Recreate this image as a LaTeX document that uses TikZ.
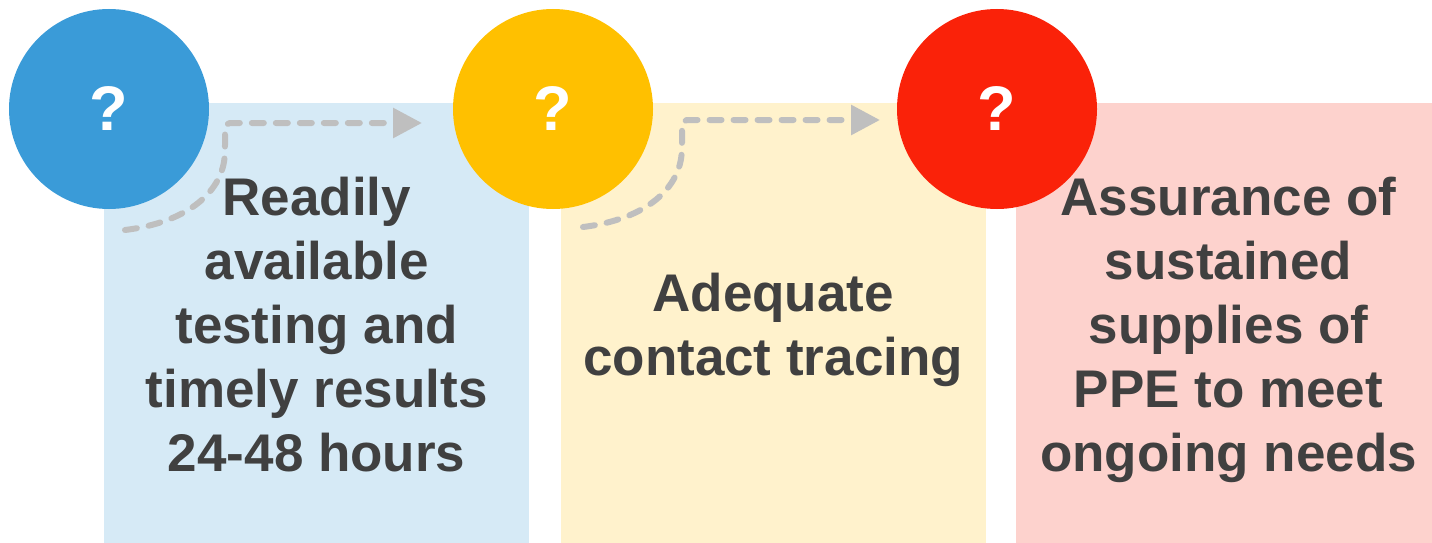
\documentclass[tikz,border=0pt]{standalone}
\usepackage{fontspec}
\setmainfont{Liberation Sans}
\usetikzlibrary{positioning,arrows.meta}
\definecolor{bluedot}{HTML}{3A9BD8}
\definecolor{bluebg}{HTML}{D6EAF6}
\definecolor{yellowdot}{HTML}{FFC000}
\definecolor{yellowbg}{HTML}{FFF2CC}
\definecolor{reddot}{HTML}{FA2209}
\definecolor{redbg}{HTML}{FDD2CD}
\definecolor{textgray}{HTML}{404040}
\definecolor{arrowgray}{HTML}{BFBFBF}

\begin{document}
\begin{tikzpicture}[x=1pt,y=-1pt]
    \tikzstyle{panel}=[draw=none,minimum width=425pt,minimum height=440pt,inner sep=0pt]
    \tikzstyle{caption}=[align=center,inner sep=0pt,text=textgray,
        font=\fontsize{53}{64}\selectfont\bfseries]
    \tikzstyle{dot}=[circle,minimum size=200pt,inner sep=0pt,text=white,
        font=\fontsize{63}{63}\selectfont\bfseries]
    \tikzstyle{flow}=[draw=arrowgray,line width=6pt,line cap=round,
        dash pattern=on 12pt off 12pt,rounded corners=5pt,
        -{Triangle[length=29pt,width=29pt]}]

    \useasboundingbox (0,0) rectangle (1432,543);
    \clip (0,0) rectangle (1432,543);

    %% Coloured panels
    \node [panel,fill=bluebg,anchor=north west] (box1) at (104,103) {};
    \node [panel,fill=yellowbg,right=31pt of box1] (box2) {};
    \node [panel,fill=redbg,right=30pt of box2] (box3) {};

    %% Panel texts
    \node [caption,below=74pt of box1.north] (txt1)
        {Readily\\available\\testing and\\timely results\\24-48 hours};
    \node [caption,below=170pt of box2.north] (txt2)
        {Adequate\\contact tracing};
    \node [caption,below=74pt of box3.north] (txt3)
        {Assurance of\\sustained\\supplies of\\PPE to meet\\ongoing needs};

    %% Dashed arrows between steps
    \coordinate (s1) at (125,230);
    \coordinate (e1) at (422,123);
    \coordinate (s2) at (583,227);
    \coordinate (e2) at (880,120);
    \draw[flow] (s1) .. controls (190,222) and (223,190) .. (225,150)
        -- (225,123) -- (e1);
    \draw[flow] (s2) .. controls (648,219) and (680,187) .. (682,147)
        -- (682,120) -- (e2);

    %% Step circles
    \foreach \n/\x/\c in {q1/109/bluedot,q2/553/yellowdot,q3/997/reddot}
        \node [dot,fill=\c] (\n) at (\x,109) {?};
\end{tikzpicture}
\end{document}
